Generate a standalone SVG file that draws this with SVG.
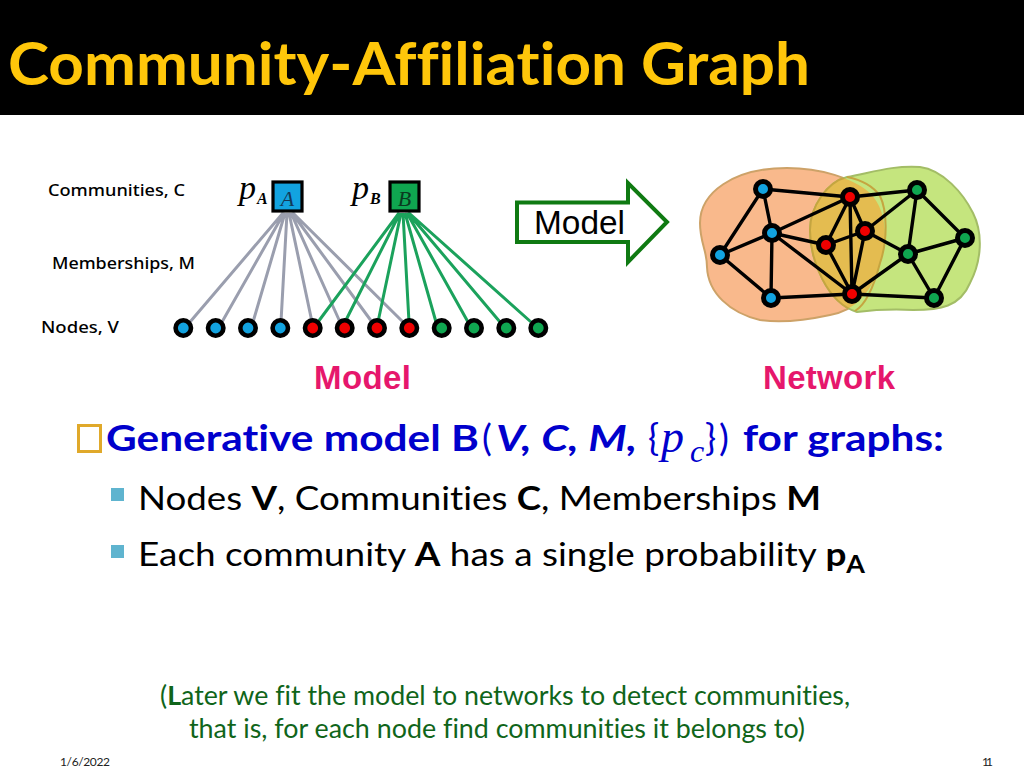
<svg xmlns="http://www.w3.org/2000/svg" width="1024" height="768" viewBox="0 0 1024 768">
<style>
.t{font-family:Lato,"Noto Sans",sans-serif;font-variant-ligatures:none}
.s{font-family:"Noto Sans",sans-serif;font-size:16px;font-weight:500;fill:#000}
.a{font-family:"Liberation Sans",Arial,sans-serif}
.r{font-family:"Liberation Serif",serif;font-style:italic}
.m{stroke-width:3;fill:none}
.e{stroke:#000;stroke-width:3.4}
.n{stroke:#000;stroke-width:4.6}
.nb{stroke:#000;stroke-width:5}
.blu{fill:#12a3e0}.red{fill:#f00000}.grn{fill:#0fa650}
.bl{font-size:37px;font-weight:700;fill:#0000cc}
.bt{font-size:33px}
.gt{font-size:27px;fill:#10651a}
</style>
<defs>
<path id="po" d="M700,223C700,193 733,168 787,168C820,168 853,178 870,193C887,210 888,240 880,263C873,290 857,310 830,315C807,320 780,323 760,320C730,313 708,293 707,267C707,250 700,243 700,223Z"/>
<path id="pg" d="M847,177C870,173 893,165 920,167C943,170 963,193 973,213C983,233 982,260 970,283C960,307 940,310 913,310C893,309 873,310 857,312C827,303 810,260 810,230C810,207 827,182 847,177Z"/>
<clipPath id="co"><use href="#po"/></clipPath>
</defs>
<rect width="1024" height="768" fill="#fff"/>
<rect width="1024" height="115" fill="#000"/>
<text id="title" class="t" x="8" y="85" font-size="60" font-weight="700" fill="#ffc60a" textLength="802" lengthAdjust="spacingAndGlyphs">Community-Affiliation Graph</text>

<text id="lblC" class="s" x="48" y="196" textLength="137" lengthAdjust="spacingAndGlyphs">Communities, C</text>
<text id="lblM" class="s" x="52" y="269" textLength="143" lengthAdjust="spacingAndGlyphs">Memberships, M</text>
<text id="lblV" class="s" x="41" y="333" textLength="78" lengthAdjust="spacingAndGlyphs">Nodes, V</text>

<g id="connectors-model">
<g class="m" stroke="#9a9eae">
<path d="M283,213L190,322M284,213L222,322M285,213L253,322M287,213L281,322M289,213L312,322M291,213L340,322M292,213L372,322M293,213L403,322"/>
</g>
<g class="m" stroke="#1ba25c">
<path d="M399,213L318,322M400,213L345,322M401,213L378,322M403,213L409,322M405,213L436,322M407,213L468,322M408,213L500,322M409,213L531,322"/>
</g>
</g>
<g id="pA"><text class="r" x="239" y="199" font-size="34">p</text><text class="r" x="257" y="204" font-size="16" font-weight="700">A</text></g>
<g id="nodeA"><rect x="273" y="182" width="29" height="29" fill="#12a3e0" stroke="#000" stroke-width="3.2"/><text class="r" x="287.5" y="206" font-size="22" text-anchor="middle" fill="#123a5a">A</text></g>
<g id="pB"><text class="r" x="352" y="199" font-size="34">p</text><text class="r" x="370" y="204" font-size="16" font-weight="700">B</text></g>
<g id="nodeB"><rect x="390" y="182" width="29" height="29" fill="#0fa650" stroke="#000" stroke-width="3.2"/><text class="r" x="404.5" y="206" font-size="22" text-anchor="middle" fill="#0a3a20">B</text></g>
<g id="bottom-nodes">
<circle class="n blu" cx="183.3" cy="328" r="7.7"/><circle class="n blu" cx="215.7" cy="328" r="7.7"/><circle class="n blu" cx="248" cy="328" r="7.7"/><circle class="n blu" cx="280.3" cy="328" r="7.7"/>
<circle class="n red" cx="312.7" cy="328" r="7.7"/><circle class="n red" cx="344.7" cy="328" r="7.7"/><circle class="n red" cx="377" cy="328" r="7.7"/><circle class="n red" cx="409.3" cy="328" r="7.7"/>
<circle class="n grn" cx="441.7" cy="328" r="7.7"/><circle class="n grn" cx="474" cy="328" r="7.7"/><circle class="n grn" cx="506.3" cy="328" r="7.7"/><circle class="n grn" cx="538.3" cy="328" r="7.7"/>
</g>

<g id="arrow"><path d="M517,202.500H628V183L667,222L628,262V242H517Z" fill="#fff" stroke="#0f7a12" stroke-width="4"/><text class="a" x="534" y="234" font-size="33.4">Model</text></g>

<g id="blobs">
<use href="#po" fill="#f9b98c" stroke="#cda268" stroke-width="2"/>
<use href="#pg" fill="#c5e57e" stroke="#a3bd66" stroke-width="2"/>
<g clip-path="url(#co)"><use href="#pg" fill="#e4bc50" stroke="#c5a540" stroke-width="2"/></g>
<path d="M847,177C862,180 873,186 880,196C887,210 888,240 880,263C873,290 865,305 855,311" fill="none" stroke="#c5a540" stroke-width="2"/>
</g>
<g id="connectors-network">
<path class="e" d="M763,189L850,197M763,189L772,233M763,189L720,255M772,233L720,255M772,233L771,298M772,233L850,197M772,233L826,245M772,233L852,294M720,255L771,298M771,298L852,294M850,197L826,245M850,197L865,231M850,197L852,294M826,245L865,231M826,245L852,294M865,231L852,294M850,197L917,190M865,231L917,190M865,231L908,254M852,294L908,254M852,294L934,298M917,190L908,254M917,190L965,238M908,254L965,238M908,254L934,298M965,238L934,298"/>
</g>
<g id="network-nodes">
<circle class="nb blu" cx="763" cy="189" r="7.500"/><circle class="nb blu" cx="772" cy="233" r="7.500"/><circle class="nb blu" cx="720" cy="255" r="7.500"/><circle class="nb blu" cx="771" cy="298" r="7.500"/>
<circle class="nb red" cx="850" cy="197" r="7.500"/><circle class="nb red" cx="826" cy="245" r="7.500"/><circle class="nb red" cx="865" cy="231" r="7.500"/><circle class="nb red" cx="852" cy="294" r="7.500"/>
<circle class="nb grn" cx="917" cy="190" r="7.500"/><circle class="nb grn" cx="908" cy="254" r="7.500"/><circle class="nb grn" cx="965" cy="238" r="7.500"/><circle class="nb grn" cx="934" cy="298" r="7.500"/>
</g>

<text id="capModel" class="a" x="314" y="389" font-size="33" font-weight="700" fill="#e6176c" textLength="97">Model</text>
<text id="capNetwork" class="a" x="763" y="389" font-size="33" font-weight="700" fill="#e6176c" textLength="132">Network</text>

<g id="body">
<rect id="bullet" x="78.500" y="425.500" width="22" height="26" fill="none" stroke="#e0a92a" stroke-width="3"/>
<text class="t bl" x="106" y="451" textLength="373" lengthAdjust="spacingAndGlyphs">Generative model B</text>
<text class="t bl" x="482" y="451" style="font-weight:400">(</text>
<text class="t bl" x="496" y="451" font-style="italic" textLength="141" lengthAdjust="spacingAndGlyphs">V, C, M,</text>
<text class="t bl" x="648" y="451" style="font-weight:400">{</text>
<text class="r" x="661" y="452" font-size="46" fill="#0000cc">p</text>
<text class="r" x="690" y="462" font-size="32" fill="#0000cc">c</text>
<text class="t bl" x="705" y="451" style="font-weight:400">}</text>
<text class="t bl" x="719" y="451" style="font-weight:400">)</text>
<text class="t bl" x="743" y="451" textLength="201" lengthAdjust="spacingAndGlyphs">for graphs:</text>
<rect x="111" y="488" width="13" height="13" fill="#5fb4cf"/>
<rect x="111" y="545" width="13" height="13" fill="#5fb4cf"/>
<text class="t bt" x="138" y="510" textLength="683" lengthAdjust="spacingAndGlyphs">Nodes <tspan font-weight="700">V</tspan>, Communities <tspan font-weight="700">C</tspan>, Memberships <tspan font-weight="700">M</tspan></text>
<text class="t bt" x="138" y="566" textLength="727" lengthAdjust="spacingAndGlyphs">Each community <tspan font-weight="700">A</tspan> has a single probability <tspan font-weight="700">p<tspan font-size="24" dy="7">A</tspan></tspan></text>
<text class="t gt" x="160" y="705" textLength="690" lengthAdjust="spacingAndGlyphs">(<tspan font-weight="700">L</tspan>ater we fit the model to networks to detect communities,</text>
<text class="t gt" x="189" y="738" textLength="616" lengthAdjust="spacingAndGlyphs">that is, for each node find communities it belongs to)</text>
</g>
<text id="date" class="t" x="60" y="766" font-size="12" textLength="50" fill="#222">1/6/2022</text>
<text id="page" class="t" x="982" y="766" font-size="12" textLength="11" fill="#222">11</text>
</svg>
